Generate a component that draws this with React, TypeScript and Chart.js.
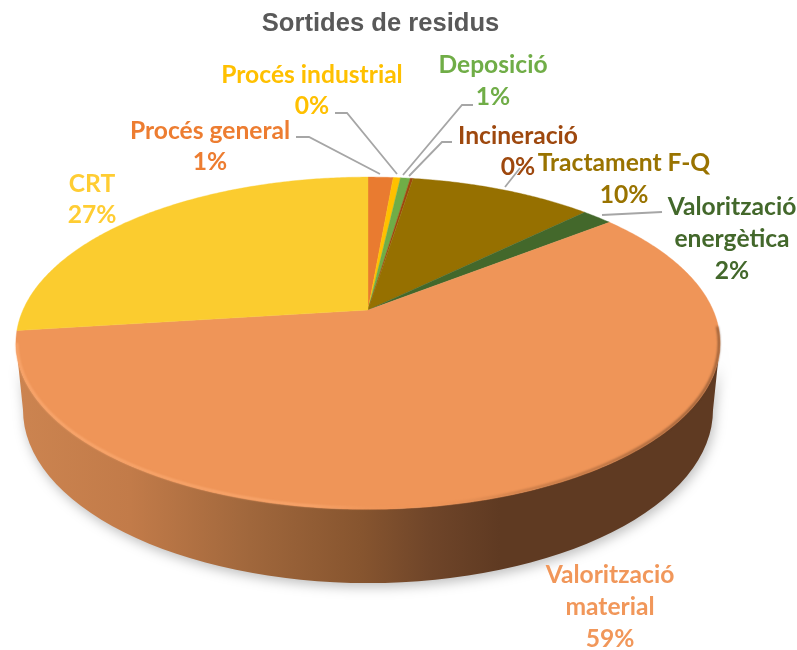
import React, { useEffect, useRef } from "react";
import { Chart, registerables } from "chart.js";

Chart.register(...registerables);

const titleText = "Sortides de residus";
const categories = [
  "Procés general",
  "Procés industrial",
  "Deposició",
  "Incineració",
  "Tractament F-Q",
  "Valorització energètica",
  "Valorització material",
  "CRT",
];
const shares = [1.4, 0.4, 0.55, 0.15, 10.2, 1.7, 58.6, 27.0];
const sliceColors = ["#E97B30", "#FFC000", "#70AD47", "#9E480E", "#967000", "#43682B", "#EF9558", "#FBCC2F"];
const labelColors = ["#ED7D31", "#FFC000", "#70AD47", "#9E480E", "#997300", "#43682B", "#F1975A", "#FFCD33"];

// Label layout: centre x, then baseline-middle y of each text line.
const labelLayout = [
  { x: 210, lines: [["Procés general", 131], ["1%", 162]] },
  { x: 312, lines: [["Procés industrial", 75], ["0%", 106]] },
  { x: 493, lines: [["Deposició", 65], ["1%", 97]] },
  { x: 518, lines: [["Incineració", 136], ["0%", 167]] },
  { x: 624, lines: [["Tractament F-Q", 163], ["10%", 195]] },
  { x: 732, lines: [["Valorització", 207], ["energètica", 239], ["2%", 271]] },
  { x: 610, lines: [["Valorització", 575], ["material", 607], ["59%", 639]] },
  { x: 92, lines: [["CRT", 184], ["27%", 215]] },
] as { x: number; lines: [string, number][] }[];

const leaderLines: number[][][] = [
  [[296, 137], [309, 137], [380, 174]],
  [[335, 113], [347, 113], [397, 174]],
  [[473, 105], [462, 105], [403, 175]],
  [[452, 142], [442, 142], [409, 176]],
  [[505, 187], [520, 168]],
  [[662, 212], [602, 215]],
];

// Projection of the pie disc on to the page.
const view = { cx: 368, apexY: 310, A: 345, B: 159.5, c: 0.2 };
const topEllipse = { cy: 343, rx: 352, ry: 166 };
const baseEllipse = { cy: 410, rx: 345, ry: 173 };

function project(angle: number): [number, number] {
  const u = Math.cos(angle);
  const v = Math.sin(angle);
  const w = 1 - view.c * v;
  return [view.cx + (view.A * u) / w, view.apexY + (view.B * v) / w];
}

const perspectivePie = {
  id: "perspectivePie",
  beforeDatasetDraw(chart: any) {
    const ctx: CanvasRenderingContext2D = chart.ctx;
    const arcs = chart.getDatasetMeta(0).data;

    // Side wall
    ctx.save();
    const wall = ctx.createLinearGradient(16, 0, 721, 0);
    const stops: [number, string][] = [
      [16, "#CC8450"],
      [130, "#C27B49"],
      [250, "#A0673C"],
      [360, "#87552F"],
      [430, "#6F4529"],
      [500, "#5F3A22"],
      [721, "#5F3A22"],
    ];
    stops.forEach(([x, col]) => wall.addColorStop((x - 16) / 705, col));
    ctx.fillStyle = wall;
    ctx.shadowColor = "rgba(0,0,0,0.25)";
    ctx.shadowBlur = 12;
    ctx.shadowOffsetY = 4;
    ctx.shadowOffsetX = 2;
    ctx.beginPath();
    ctx.ellipse(view.cx, topEllipse.cy, topEllipse.rx, topEllipse.ry, 0, Math.PI, 0, true);
    ctx.ellipse(view.cx, baseEllipse.cy, baseEllipse.rx, baseEllipse.ry, 0, 0, Math.PI, false);
    ctx.closePath();
    ctx.fill();
    ctx.restore();

    // Top surface
    arcs.forEach((arc: any, i: number) => {
      const { startAngle, endAngle } = arc.getProps(["startAngle", "endAngle"], true);
      const steps = Math.max(2, Math.ceil((endAngle - startAngle) / 0.01));
      ctx.beginPath();
      ctx.moveTo(view.cx, view.apexY);
      for (let s = 0; s <= steps; s++) {
        const [x, y] = project(startAngle + ((endAngle - startAngle) * s) / steps);
        ctx.lineTo(x, y);
      }
      ctx.closePath();
      ctx.fillStyle = sliceColors[i];
      ctx.fill();
      ctx.strokeStyle = sliceColors[i];
      ctx.lineWidth = 0.4;
      ctx.stroke();
    });

    // Bevel along the rim
    ctx.save();
    const rim = ctx.createLinearGradient(16, 0, 721, 0);
    rim.addColorStop(0, "rgba(255,176,120,0.8)");
    rim.addColorStop(0.42, "rgba(255,176,120,0.75)");
    rim.addColorStop(0.56, "rgba(239,149,88,0)");
    rim.addColorStop(0.72, "rgba(120,72,40,0.4)");
    rim.addColorStop(1, "rgba(95,58,34,0.75)");
    ctx.strokeStyle = rim;
    ctx.lineWidth = 2;
    ctx.filter = "blur(1px)";
    ctx.beginPath();
    ctx.ellipse(view.cx, topEllipse.cy, topEllipse.rx - 1, topEllipse.ry - 1, 0, Math.PI, -0.1, true);
    ctx.stroke();
    ctx.restore();

    return false;
  },
  afterDraw(chart: any) {
    const ctx: CanvasRenderingContext2D = chart.ctx;
    ctx.save();
    ctx.strokeStyle = "#A6A6A6";
    ctx.lineWidth = 1.8;
    leaderLines.forEach((pts) => {
      ctx.beginPath();
      pts.forEach(([x, y], i) => (i ? ctx.lineTo(x, y) : ctx.moveTo(x, y)));
      ctx.stroke();
    });
    ctx.textAlign = "center";
    ctx.textBaseline = "middle";
    ctx.font = "bold 24.6px Lato";
    ctx.filter = "blur(0.4px)";
    labelLayout.forEach((lab, i) => {
      ctx.fillStyle = labelColors[i];
      lab.lines.forEach(([text, y]) => ctx.fillText(text, lab.x, y));
    });
    ctx.restore();
  },
};

export default function App() {
  const ref = useRef<HTMLCanvasElement>(null);
  useEffect(() => {
    const chart = new Chart(ref.current!, {
      type: "pie",
      data: {
        labels: categories,
        datasets: [{ data: shares, backgroundColor: sliceColors, borderWidth: 0 }],
      },
      options: {
        responsive: false,
        animation: false,
        layout: { padding: { right: 36 } },
        plugins: {
          legend: { display: false },
          tooltip: { enabled: false },
          title: {
            display: true,
            text: titleText,
            color: "#595959",
            font: { family: "Liberation Sans", size: 25.6, weight: "bold" },
            padding: { top: 9, bottom: 8 },
          },
        },
      },
      plugins: [perspectivePie],
    } as any);
    return () => chart.destroy();
  }, []);
  return (
    <div style={{ position: "absolute", left: 0, top: 0, width: 797, height: 650, background: "#fff" }}>
      <canvas ref={ref} width={797} height={650} style={{ display: "block" }} />
    </div>
  );
}
